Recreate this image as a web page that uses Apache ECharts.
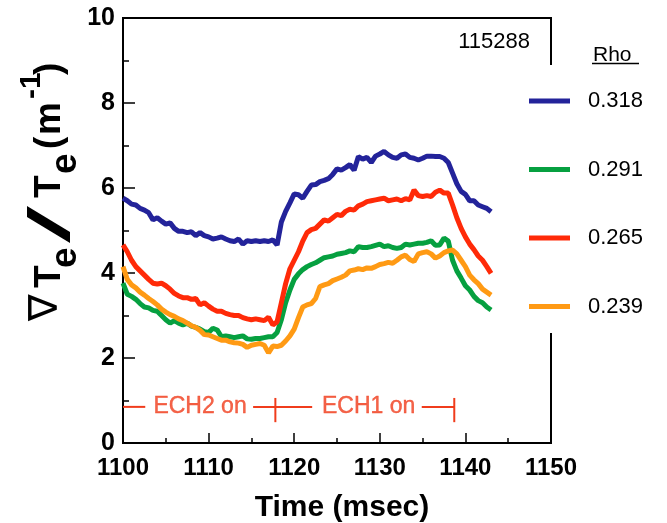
<!DOCTYPE html>
<html>
<head>
<meta charset="utf-8">
<script src="https://cdn.jsdelivr.net/npm/echarts@6/dist/echarts.min.js"></script>
<style>html,body{margin:0;padding:0;background:#fff}#c{width:667px;height:523px}</style>
</head>
<body>
<div id="c"></div>
<script>
const times = [1100,1100.5,1101,1101.5,1102,1102.5,1103,1103.5,1104,1104.5,1105,1105.5,1106,1106.5,1107,1107.5,1108,1108.5,1109,1109.5,1110,1110.5,1111,1111.5,1112,1112.5,1113,1113.5,1114,1114.5,1115,1115.5,1116,1116.5,1117,1117.5,1118,1118.5,1119,1119.5,1120,1120.5,1121,1121.5,1122,1122.5,1123,1123.5,1124,1124.5,1125,1125.5,1126,1126.5,1127,1127.5,1128,1128.5,1129,1129.5,1130,1130.5,1131,1131.5,1132,1132.5,1133,1133.5,1134,1134.5,1135,1135.5,1136,1136.5,1137,1137.5,1138,1138.5,1139,1139.5,1140,1140.5,1141,1141.5,1142,1142.5,1143];

const rho0318 = [5.76,5.7,5.62,5.6,5.52,5.48,5.42,5.25,5.3,5.22,5.15,5.18,5.05,4.98,4.98,4.95,4.97,4.88,4.95,4.88,4.85,4.8,4.82,4.85,4.8,4.76,4.74,4.8,4.68,4.76,4.74,4.76,4.74,4.76,4.74,4.78,4.66,5.2,5.45,5.65,5.86,5.84,5.76,5.92,6.07,6.08,6.15,6.18,6.22,6.32,6.45,6.42,6.48,6.55,6.42,6.74,6.68,6.72,6.6,6.75,6.8,6.86,6.78,6.72,6.7,6.78,6.8,6.72,6.7,6.66,6.7,6.75,6.75,6.74,6.74,6.7,6.6,6.35,6.1,5.92,5.85,5.7,5.7,5.6,5.56,5.52,5.44];

const rho0291 = [3.76,3.5,3.45,3.38,3.28,3.2,3.18,3.12,3.1,3.0,2.9,2.82,2.88,2.82,2.78,2.82,2.75,2.72,2.68,2.62,2.6,2.7,2.66,2.5,2.52,2.5,2.48,2.5,2.52,2.45,2.44,2.46,2.46,2.48,2.5,2.5,2.6,2.9,3.3,3.6,3.85,3.98,4.08,4.15,4.2,4.24,4.3,4.36,4.38,4.4,4.44,4.46,4.48,4.52,4.5,4.62,4.6,4.6,4.62,4.65,4.68,4.62,4.64,4.6,4.58,4.6,4.68,4.66,4.68,4.7,4.7,4.72,4.76,4.65,4.66,4.82,4.75,4.3,4.05,3.88,3.7,3.6,3.45,3.35,3.3,3.2,3.13];

const rho0265 = [4.66,4.5,4.3,4.15,4.05,3.95,3.85,3.76,3.74,3.76,3.7,3.62,3.52,3.46,3.42,3.42,3.38,3.4,3.25,3.3,3.22,3.15,3.1,3.1,3.05,3.02,3.0,3.0,2.95,2.92,2.9,2.92,2.9,2.88,2.96,2.78,2.85,3.3,3.75,4.1,4.3,4.5,4.75,4.95,5.02,5.05,5.15,5.25,5.22,5.3,5.38,5.35,5.45,5.5,5.48,5.58,5.62,5.68,5.7,5.72,5.74,5.76,5.7,5.72,5.74,5.7,5.75,5.72,5.95,5.82,5.8,5.82,5.8,5.9,5.95,5.88,5.88,5.6,5.3,5.05,4.85,4.68,4.55,4.4,4.3,4.15,3.99];

const rho0239 = [4.15,3.85,3.72,3.65,3.55,3.48,3.4,3.33,3.25,3.15,3.08,3.02,2.98,2.92,2.88,2.82,2.76,2.72,2.65,2.55,2.54,2.5,2.46,2.42,2.42,2.38,2.36,2.35,2.32,2.25,2.3,2.32,2.34,2.3,2.12,2.28,2.27,2.3,2.4,2.52,2.68,2.95,3.2,3.25,3.28,3.4,3.68,3.72,3.75,3.82,3.86,3.9,3.95,4.05,4.07,4.1,4.08,4.12,4.11,4.15,4.2,4.22,4.25,4.23,4.3,4.38,4.42,4.32,4.27,4.45,4.48,4.5,4.45,4.35,4.4,4.48,4.52,4.54,4.45,4.3,4.15,3.95,3.84,3.75,3.62,3.55,3.48];

const seriesNames = ['0.318','0.291','0.265','0.239'];
const seriesValues = [rho0318, rho0291, rho0265, rho0239];
const seriesColors = ['#23239a','#06a040','#ff2a08','#ff9a14'];

const xTicks = [1100,1110,1120,1130,1140,1150];
const yTicks = [0,2,4,6,8,10];

// ECH annotation (data coordinates)
const echLevel = 0.85;
const echSegments = [[1100,1102.6],[1115.2,1122.1],[1134.9,1138.7]];
const echTickTimes = [1117.8,1138.7];
const echTickRange = [0.49,1.06];
const echLabels = ['ECH2 on','ECH1 on'];
const echLabelTimes = [1109.0,1128.7];

const shotNumber = '115288';
const legendTitle = 'Rho';

const chart = echarts.init(document.getElementById('c'));
const FONT = '"Liberation Sans", Arial, Helvetica, sans-serif';
const ECH_COLOR = '#f03c1c';

const series = [];
seriesNames.forEach((n,i)=>{
  series.push({
    name:n, type:'line', showSymbol:false, symbol:'none',
    data: times.map((t,j)=>[t, seriesValues[i][j]]),
    lineStyle:{color:seriesColors[i], width:5},
    itemStyle:{color:seriesColors[i]},
    z: 3, silent:true
  });
});
echSegments.forEach(s=>{
  series.push({type:'line', symbol:'none', silent:true, data:[[s[0],echLevel],[s[1],echLevel]], lineStyle:{color:ECH_COLOR,width:2}, z:2});
});
echTickTimes.forEach(t=>{
  series.push({type:'line', symbol:'none', silent:true, data:[[t,echTickRange[0]],[t,echTickRange[1]]], lineStyle:{color:ECH_COLOR,width:2}, z:2});
});
series.push({
  type:'scatter', symbolSize:0, silent:true,
  data: echLabels.map((l,i)=>({value:[echLabelTimes[i], echLevel], name:l})),
  label:{show:true, position:'inside', formatter:p=>p.name, color:ECH_COLOR, fontSize:23, fontFamily:FONT,
    textBorderColor:ECH_COLOR, textBorderWidth:0.4}
});

chart.setOption({
  animation:false,
  backgroundColor:'#fff',
  grid:{left:123, top:18, right:116, bottom:80, show:true, borderColor:'#000', borderWidth:2, backgroundColor:'transparent',
    containLabel:false, outerBoundsMode:'none'},
  xAxis:{
    type:'value', min:1100, max:1150, interval:10,
    axisLine:{show:true, onZero:false, lineStyle:{color:'#000', width:2}},
    axisTick:{show:true, inside:true, length:10, lineStyle:{color:'#000', width:1.5}},
    minorTick:{show:true, splitNumber:2, length:5, lineStyle:{color:'#000', width:1.5}},
    splitLine:{show:false},
    axisLabel:{color:'#000', fontSize:24, fontWeight:'bold', fontFamily:FONT, margin:13,
      formatter:v=> xTicks.indexOf(v)>=0 ? String(v) : ''},
    name:'Time (msec)', nameLocation:'middle', nameGap:50,
    nameTextStyle:{color:'#000', fontSize:30, fontWeight:'bold', fontFamily:FONT, padding:[0,0,0,10]}
  },
  yAxis:{
    type:'value', min:0, max:10, interval:2,
    axisLine:{show:true, onZero:false, lineStyle:{color:'#000', width:2}},
    axisTick:{show:true, inside:true, length:12, lineStyle:{color:'#000', width:1.5}},
    minorTick:{show:true, splitNumber:2, length:6, lineStyle:{color:'#000', width:1.5}},
    splitLine:{show:false},
    axisLabel:{color:'#000', fontSize:25, fontWeight:'bold', fontFamily:FONT, margin:8,
      formatter:v=> yTicks.indexOf(v)>=0 ? String(v) : ''}
  },
  legend:{
    data:seriesNames, orient:'vertical', left:525, top:65,
    icon:'rect', itemWidth:41, itemHeight:5, itemGap:46.5,
    padding:[25,22,15.5,4],
    backgroundColor:'#fff', selectedMode:false,
    textStyle:{color:'#000', fontSize:22, fontFamily:FONT, lineHeight:22, padding:[0,0,0,13]}
  },
  graphic:[
    {type:'text', x:530, y:42, style:{text:shotNumber, fill:'#000', font:'22px '+FONT, align:'right', verticalAlign:'middle'}},
    {type:'text', x:593, y:55, style:{text:legendTitle, fill:'#000', font:'21px '+FONT, align:'left', verticalAlign:'middle'}},
    {type:'line', shape:{x1:592, y1:63.5, x2:639, y2:63.5}, style:{stroke:'#000', lineWidth:1.5}},
    {type:'polygon', shape:{points:[[27,206],[70,232],[70,243],[27,217]]}, style:{fill:'#000'}},
    {type:'group', x:63, y:320, rotation:Math.PI/2, children:[
      {type:'text', x:-1, y:-16, style:{text:'\u2207', fill:'#000', font:'normal 40px "DejaVu Sans", sans-serif', align:'left', verticalAlign:'middle'}},
      {type:'text', x:32, y:-13, style:{text:'T', fill:'#000', font:'bold 37px '+FONT, align:'left', verticalAlign:'middle'}},
      {type:'text', x:52, y:3, style:{text:'e', fill:'#000', font:'bold 37px '+FONT, align:'left', verticalAlign:'middle'}},
      {type:'text', x:122, y:-13, style:{text:'T', fill:'#000', font:'bold 37px '+FONT, align:'left', verticalAlign:'middle'}},
      {type:'text', x:146, y:3, style:{text:'e', fill:'#000', font:'bold 37px '+FONT, align:'left', verticalAlign:'middle'}},
      {type:'text', x:171, y:-13, style:{text:'(', fill:'#000', font:'bold 37px '+FONT, align:'left', verticalAlign:'middle'}},
      {type:'text', x:185, y:-13, style:{text:'m', fill:'#000', font:'bold 37px '+FONT, align:'left', verticalAlign:'middle'}},
      {type:'text', x:221, y:-31, style:{text:'-1', fill:'#000', font:'bold 30px '+FONT, align:'left', verticalAlign:'middle'}},
      {type:'text', x:245, y:-13, style:{text:')', fill:'#000', font:'bold 37px '+FONT, align:'left', verticalAlign:'middle'}}
    ]}
  ],
  series:series
});
</script>
</body>
</html>
